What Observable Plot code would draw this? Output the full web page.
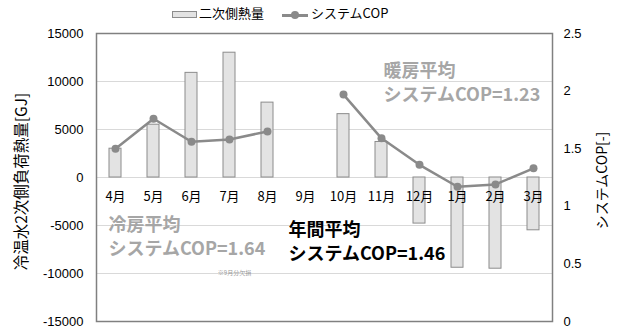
<!DOCTYPE html>
<html><head><meta charset="utf-8">
<script src="https://cdn.jsdelivr.net/npm/d3@7"></script>
<script src="https://cdn.jsdelivr.net/npm/@observablehq/plot@0.6"></script>
<style>
body{margin:0;background:#fff;font-family:"Liberation Sans","Noto Sans CJK JP",sans-serif;}
#legend{position:relative;height:26px;font-family:"Noto Sans CJK JP",sans-serif;font-size:13px;color:#000;}
#legend span{position:absolute;top:5px;line-height:16px;}
.sw{position:absolute;box-sizing:border-box;}
</style></head><body>
<div id="legend"></div>
<div id="chart"></div>
<script>
const months = ["4月","5月","6月","7月","8月","9月","10月","11月","12月","1月","2月","3月"];
const heat = [3000, 5500, 10900, 13000, 7800, null, 6600, 3700, -4800, -9400, -9500, -5500];
const cop = [1.50, 1.76, 1.56, 1.58, 1.65, NaN, 1.97, 1.59, 1.36, 1.17, 1.19, 1.33];
const gjTicks = [-15000, -10000, -5000, 0, 5000, 10000, 15000];
const copTicks = [0, 0.5, 1, 1.5, 2, 2.5];
const seriesNames = ["二次側熱量", "システムCOP"];
const leftTitle = "冷温水2次側負荷熱量[GJ]";
const rightTitle = "システムCOP[-]";
const heatingNote = ["暖房平均\nシステムCOP=1.23"];
const coolingNote = ["冷房平均\nシステムCOP=1.64"];
const annualNote = ["年間平均\nシステムCOP=1.46"];
const footNote = ["※9月分欠損"];

const gjMax = 15000, copMax = 2.5;
const copToGJ = c => (c / copMax) * 2 * gjMax - gjMax;
const gjToCop = g => (g + gjMax) / (2 * gjMax) * copMax;

const data = months.map((m, i) => ({month: m, heat: heat[i], cop: copToGJ(cop[i])}));

// legend
const lg = document.getElementById("legend");
lg.innerHTML = `
<div class="sw" style="left:172px;top:11px;width:25px;height:7px;background:#e3e3e3;border:1px solid #8c8c8c"></div>
<span style="left:199px">${seriesNames[0]}</span>
<div class="sw" style="left:282px;top:14px;width:26px;height:2.5px;background:#8a8a8a"></div>
<div class="sw" style="left:291px;top:11px;width:8px;height:8px;border-radius:50%;background:#8a8a8a"></div>
<span style="left:311px">${seriesNames[1]}</span>`;

const gray = "#a6a6a6";
const chart = Plot.plot({
  width: 621, height: 305,
  marginTop: 7, marginBottom: 10, marginLeft: 96, marginRight: 69,
  style: {fontFamily: "Liberation Sans, Noto Sans CJK JP, sans-serif", fontSize: "13px", color: "#000", background: "#fff"},
  x: {domain: months, paddingInner: 0.68, paddingOuter: 0.34, axis: null},
  y: {domain: [-gjMax, gjMax], axis: null},
  marks: [
    Plot.gridY(gjTicks.slice(1, -1), {stroke: "#d9d9d9", strokeOpacity: 1, strokeWidth: 1.2}),
    Plot.barY(data, {x: "month", y: "heat", fill: "#e3e3e3", stroke: "#8c8c8c", strokeWidth: 1}),
    Plot.line(data, {x: "month", y: "cop", stroke: "#8a8a8a", strokeWidth: 2.5}),
    Plot.dot(data, {x: "month", y: "cop", r: 4, fill: "#8a8a8a"}),
    Plot.text(months, {x: d => d, y: () => 0, dy: 19, fontSize: 13, fontFamily: "Noto Sans CJK JP"}),
    Plot.axisY(gjTicks, {anchor: "left", tickSize: 0, tickPadding: 13, label: null, tickFormat: d => String(d), fontSize: 13}),
    Plot.axisY(copTicks.map(copToGJ), {anchor: "right", tickSize: 0, tickPadding: 11, label: null, tickFormat: d => String(+gjToCop(d).toFixed(2)), fontSize: 13}),
    Plot.frame({stroke: "#808080", strokeWidth: 1.5}),
    Plot.text([leftTitle], {frameAnchor: "left", textAnchor: "middle", dx: -74, dy: 4, rotate: -90, fontSize: 15.5, fontFamily: "Noto Sans CJK JP"}),
    Plot.text([rightTitle], {frameAnchor: "right", textAnchor: "middle", dx: 50, dy: 3, rotate: -90, fontSize: 14, fontFamily: "Noto Sans CJK JP"}),
    Plot.text(heatingNote, {x: () => "11月", y: () => 10000, dx: 2, textAnchor: "start", lineAnchor: "middle", lineHeight: 1.3, fontSize: 18, fontWeight: "bold", fill: gray, fontFamily: "Noto Sans CJK JP"}),
    Plot.text(coolingNote, {x: () => "4月", y: () => -6000, dx: -7, textAnchor: "start", lineAnchor: "middle", lineHeight: 1.35, fontSize: 18, fontWeight: "bold", fill: gray, fontFamily: "Noto Sans CJK JP"}),
    Plot.text(annualNote, {x: () => "8月", y: () => -6500, dx: 21, textAnchor: "start", lineAnchor: "middle", lineHeight: 1.35, fontSize: 18, fontWeight: "bold", fill: "#000", fontFamily: "Noto Sans CJK JP"}),
    Plot.text(footNote, {x: () => "7月", y: () => -10000, dx: 5, fontSize: 6, fill: "#999", fontFamily: "Noto Sans CJK JP"})
  ]
});
document.getElementById("chart").appendChild(chart);
</script>
</body></html>
